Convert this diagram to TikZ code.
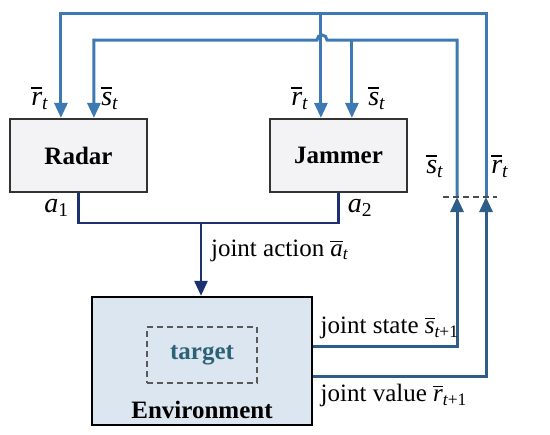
\documentclass[tikz,border=0pt]{standalone}
\usepackage{amsmath}
\usepackage{fontspec}
\setmainfont{Liberation Serif}
\usepackage{tikz}
\usetikzlibrary{arrows.meta, positioning}

\definecolor{fbblue}{HTML}{3D7AB4}
\definecolor{fbdark}{HTML}{2E5E88}
\definecolor{actnavy}{HTML}{1C3270}
\definecolor{boxgray}{HTML}{F3F3F5}
\definecolor{envfill}{HTML}{DCE6F1}
\definecolor{tgtteal}{HTML}{2C6275}

\newcommand{\barsym}[2]{$\overline{\textit{#1}}_{\textit{#2}}$}

\begin{document}
\begin{tikzpicture}[
    x=0.5pt, y=-0.5pt,
    >={Triangle[length=7.5pt, width=6.5pt]},
    font=\fontsize{12}{14}\selectfont,
    agent/.style={draw=black!80, line width=1.1pt, fill=boxgray, minimum width=68.5pt, minimum height=36.5pt, font=\fontsize{12.5}{14}\selectfont\bfseries},
    envbox/.style={draw=black, line width=1.2pt, fill=envfill, minimum width=110pt, minimum height=64pt},
    tgtbox/.style={draw=black!65, dash pattern=on 3pt off 2pt, line width=0.7pt, minimum width=55pt, minimum height=28pt, text=tgtteal, font=\fontsize{12.5}{14}\selectfont\bfseries},
    fb/.style={->, fbblue, line width=1.5pt},
    fbup/.style={->, fbdark, line width=1.5pt},
    act/.style={actnavy, line width=1.4pt},
    lbl/.style={inner sep=1pt, text=black, font=\fontsize{14}{16}\selectfont},
    txt/.style={text=black, font=\fontsize{12.5}{14}\selectfont},
]
\useasboundingbox (0,0) rectangle (550,434);

% === Agents and environment ===
\node[agent] (radar) at (78.5,155.5) {Radar};
\node[agent] (jammer) at (338.5,155.5) {Jammer};
\node[envbox] (env) at (202,361) {};
\node[tgtbox] (target) at (202,355) {target};
\node[font=\fontsize{12.5}{14}\selectfont\bfseries] (envlbl) at (202,410) {Environment};

% === Feedback points ===
\path (radar.north west) ++(52,0) coordinate (radR) ++(33,0) coordinate (radS);
\path (jammer.north west) ++(52,0) coordinate (jamR) ++(31,0) coordinate (jamS);
\coordinate (rTop) at (486,13);
\coordinate (sTop) at (457,40);
\coordinate (rIn) at (486,197);
\coordinate (sIn) at (457,197);
\coordinate (hopR) at (327,40);

% === Feedback to the agents ===
\draw[fb] (rIn) -- (rTop) -| (radR);
\draw[fb] (jamR |- rTop) -- (jamR);
\draw[fb] (sIn) -- (sTop) -- (hopR) arc[start angle=0, end angle=180, radius=2.5pt] -| (radS);
\draw[fb] (jamS |- sTop) -- (jamS);
\draw[black!70, line width=0.8pt, dash pattern=on 3pt off 2pt] (443,197) -- (497,197);

\node[lbl] (rRad) at (40,98) {\barsym{r}{t}};
\node[lbl] (sRad) at (110,98) {\barsym{s}{t}};
\node[lbl] (rJam) at (300,98) {\barsym{r}{t}};
\node[lbl] (sJam) at (377,98) {\barsym{s}{t}};
\node[lbl] (sRet) at (435,166) {\barsym{s}{t}};
\node[lbl] (rRet) at (500,166) {\barsym{r}{t}};

% === Joint action ===
\coordinate (actJ) at (201,223);
\draw[act] (radar.south) |- (actJ) node[lbl, pos=0.25, left=3pt] {$\textit{a}_{\text{1}}$}
    -| (jammer.south) node[lbl, pos=0.75, right=3pt] {$\textit{a}_{\text{2}}$};
\draw[act, ->] (actJ) -- (env.north -| actJ)
    node[txt, pos=0.38, right=1pt] {joint action \barsym{a}{t}};

% === Joint state and value ===
\path (env.north east) ++(0,51) coordinate (envS) ++(0,30) coordinate (envR);
\draw[fbup] (envS) -| (sIn) node[txt, pos=0, anchor=south west, inner sep=3pt] {joint state $\overline{\textit{s}}_{\textit{t}\text{+1}}$};
\draw[fbup] (envR) -| (rIn) node[txt, pos=0, anchor=north west, inner sep=3pt] {joint value $\overline{\textit{r}}_{\textit{t}\text{+1}}$};

\end{tikzpicture}
\end{document}
